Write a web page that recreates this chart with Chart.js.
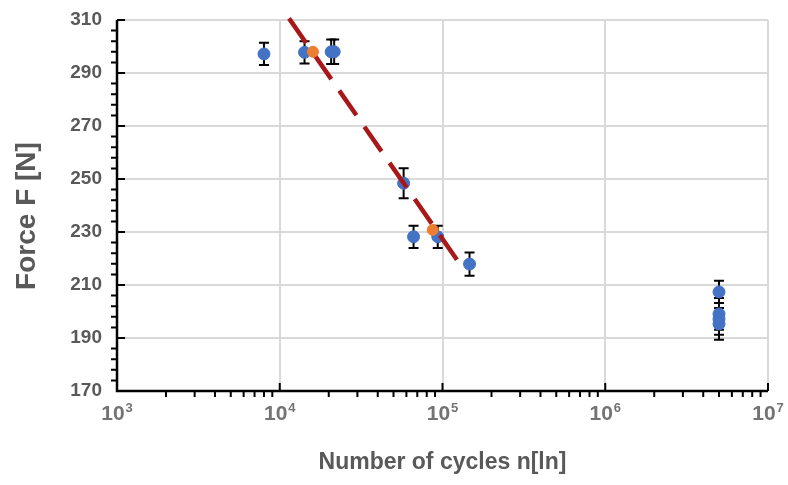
<!DOCTYPE html>
<html>
<head>
<meta charset="utf-8">
<script src="https://cdn.jsdelivr.net/npm/chart.js@4.4.1/dist/chart.umd.min.js"></script>
<style>
html, body { margin: 0; padding: 0; background: #fff; }
#wrap { width: 788px; height: 485px; }
</style>
</head>
<body>
<div id="wrap"><canvas id="myChart"></canvas></div>
<script>
// measured points (blue) with error bars
var cycles   = [8000, 14200, 20700, 21600, 57700, 66400, 93500, 146600, 5.0e6, 5.0e6, 5.0e6, 5.0e6];
var force    = [297.2, 297.8, 298.0, 298.0, 248.4, 228.2, 228.2, 217.9, 207.4, 199.1, 197.2, 195.3];
var forceErr = [4.2, 4.2, 4.6, 4.6, 5.7, 4.2, 4.2, 4.4, 4.2, 6.0, 6.0, 6.0];

// orange points
var fitCycles = [16000, 87100];
var fitForce  = [298.0, 230.8];

// dashed trend line
var trendCycles = [11400, 127000];
var trendForce  = [310.6, 218.2];

var xTicks    = [1e3, 1e4, 1e5, 1e6, 1e7];
var xTickBase = ['10', '10', '10', '10', '10'];
var xTickExp  = ['3', '4', '5', '6', '7'];
var yTicks    = [170, 190, 210, 230, 250, 270, 290, 310];

var yTitle = 'Force F [N]';
var xTitle = 'Number of cycles n[ln]';

var fontFam = "'Liberation Sans', Arial, sans-serif";
var textGray = '#595959';

function toPoints(xs, ys) {
  return xs.map(function(x, i){ return {x: x, y: ys[i]}; });
}

var axesPlugin = {
  id: 'axesPlugin',
  beforeDatasetsDraw: function(chart) {
    var ctx = chart.ctx;
    var xs = chart.scales.x, ys = chart.scales.y;
    var area = chart.chartArea;

    // error bars (under the blue dots)
    ctx.save();
    ctx.strokeStyle = '#000';
    ctx.lineWidth = 2;
    for (var i = 0; i < cycles.length; i++) {
      var px = xs.getPixelForValue(cycles[i]);
      var top = ys.getPixelForValue(force[i] + forceErr[i]);
      var bot = ys.getPixelForValue(force[i] - forceErr[i]);
      ctx.beginPath();
      ctx.moveTo(px, top); ctx.lineTo(px, bot);
      ctx.moveTo(px - 5, top); ctx.lineTo(px + 5, top);
      ctx.moveTo(px - 5, bot); ctx.lineTo(px + 5, bot);
      ctx.stroke();
    }
    ctx.restore();

    // axis lines and ticks
    ctx.save();
    ctx.strokeStyle = '#000';
    ctx.lineWidth = 2.5;
    ctx.beginPath();
    ctx.moveTo(area.left, area.top);
    ctx.lineTo(area.left, area.bottom);
    ctx.lineTo(area.right, area.bottom);
    ctx.stroke();

    ctx.lineWidth = 2;
    ctx.beginPath();
    // y major (inside) and minor (outside)
    for (var v = 170; v <= 310; v += 4) {
      var py = ys.getPixelForValue(v);
      if ((v - 170) % 20 === 0) {
        ctx.moveTo(area.left, py); ctx.lineTo(area.left + 8, py);
      } else {
        ctx.moveTo(area.left - 6, py); ctx.lineTo(area.left, py);
      }
    }
    // x major (inside) and minor (outside)
    for (var d = 3; d <= 7; d++) {
      var base = Math.pow(10, d);
      var pm = xs.getPixelForValue(base);
      ctx.moveTo(pm, area.bottom); ctx.lineTo(pm, area.bottom - 8);
      if (d < 7) {
        for (var k = 2; k <= 9; k++) {
          var pk = xs.getPixelForValue(k * base);
          ctx.moveTo(pk, area.bottom); ctx.lineTo(pk, area.bottom + 6);
        }
      }
    }
    ctx.stroke();
    ctx.restore();
  },
  afterDraw: function(chart) {
    var ctx = chart.ctx;
    var xs = chart.scales.x;
    var area = chart.chartArea;

    // x tick labels as 10 with a raised exponent
    ctx.save();
    ctx.fillStyle = '#737373';
    ctx.textBaseline = 'alphabetic';
    ctx.textAlign = 'left';
    for (var i = 0; i < xTicks.length; i++) {
      var px = xs.getPixelForValue(xTicks[i]);
      ctx.font = "bold 21px " + fontFam;
      var w1 = ctx.measureText(xTickBase[i]).width;
      ctx.font = "bold 13px " + fontFam;
      var w2 = ctx.measureText(xTickExp[i]).width;
      var x0 = px - (w1 + w2 + 1) / 2;
      ctx.font = "bold 21px " + fontFam;
      ctx.fillText(xTickBase[i], x0, area.bottom + 29);
      ctx.font = "bold 13px " + fontFam;
      ctx.fillText(xTickExp[i], x0 + w1 + 1, area.bottom + 21);
    }
    ctx.restore();

    // y axis title
    ctx.save();
    ctx.fillStyle = textGray;
    ctx.font = "bold 28px " + fontFam;
    ctx.textAlign = 'center';
    ctx.textBaseline = 'middle';
    ctx.translate(27, 216);
    ctx.rotate(-Math.PI / 2);
    ctx.fillText(yTitle, 0, 0);
    ctx.restore();
  }
};

var config = {
  type: 'scatter',
  data: {
    datasets: [{
      data: toPoints(fitCycles, fitForce),
      backgroundColor: '#ed7d31',
      borderColor: '#ed7d31',
      pointRadius: 5.5,
      showLine: false
    }, {
      data: toPoints(trendCycles, trendForce),
      showLine: true,
      pointRadius: 0,
      borderColor: '#a81818',
      borderWidth: 4.5,
      borderDash: [30, 14],
      clip: false
    }, {
      data: toPoints(cycles, force),
      backgroundColor: '#4472c4',
      borderColor: '#4472c4',
      pointRadius: 6,
      showLine: false
    }]
  },
  plugins: [axesPlugin],
  options: {
    responsive: true,
    maintainAspectRatio: false,
    animation: false,
    devicePixelRatio: 1,
    layout: { padding: { top: 20, right: 20, left: 0, bottom: 0 } },
    plugins: { legend: { display: false }, tooltip: { enabled: false } },
    scales: {
      x: {
        type: 'logarithmic',
        min: 1e3,
        max: 1e7,
        afterBuildTicks: function(scale) {
          scale.ticks = xTicks.map(function(v){ return {value: v}; });
        },
        afterFit: function(scale) {
          scale.height = 94;
          scale.paddingLeft = 0;
          scale.paddingRight = 0;
        },
        grid: { color: '#d9d9d9', lineWidth: 2, drawTicks: false },
        border: { display: false },
        ticks: { display: false },
        title: {
          display: true,
          text: xTitle,
          color: textGray,
          font: { family: fontFam, size: 23, weight: 'bold' },
          padding: { top: 0, bottom: 9 }
        }
      },
      y: {
        min: 170,
        max: 310,
        afterBuildTicks: function(scale) {
          scale.ticks = yTicks.map(function(v){ return {value: v}; });
        },
        afterFit: function(scale) {
          scale.width = 117;
          scale.paddingTop = 0;
          scale.paddingBottom = 0;
        },
        grid: { color: '#d9d9d9', lineWidth: 2, drawTicks: false },
        border: { display: false },
        ticks: {
          padding: 15,
          color: textGray,
          font: { family: fontFam, size: 19, weight: 'bold' }
        }
      }
    }
  }
};

var myChart = new Chart(document.getElementById('myChart').getContext('2d'), config);
</script>
</body>
</html>
